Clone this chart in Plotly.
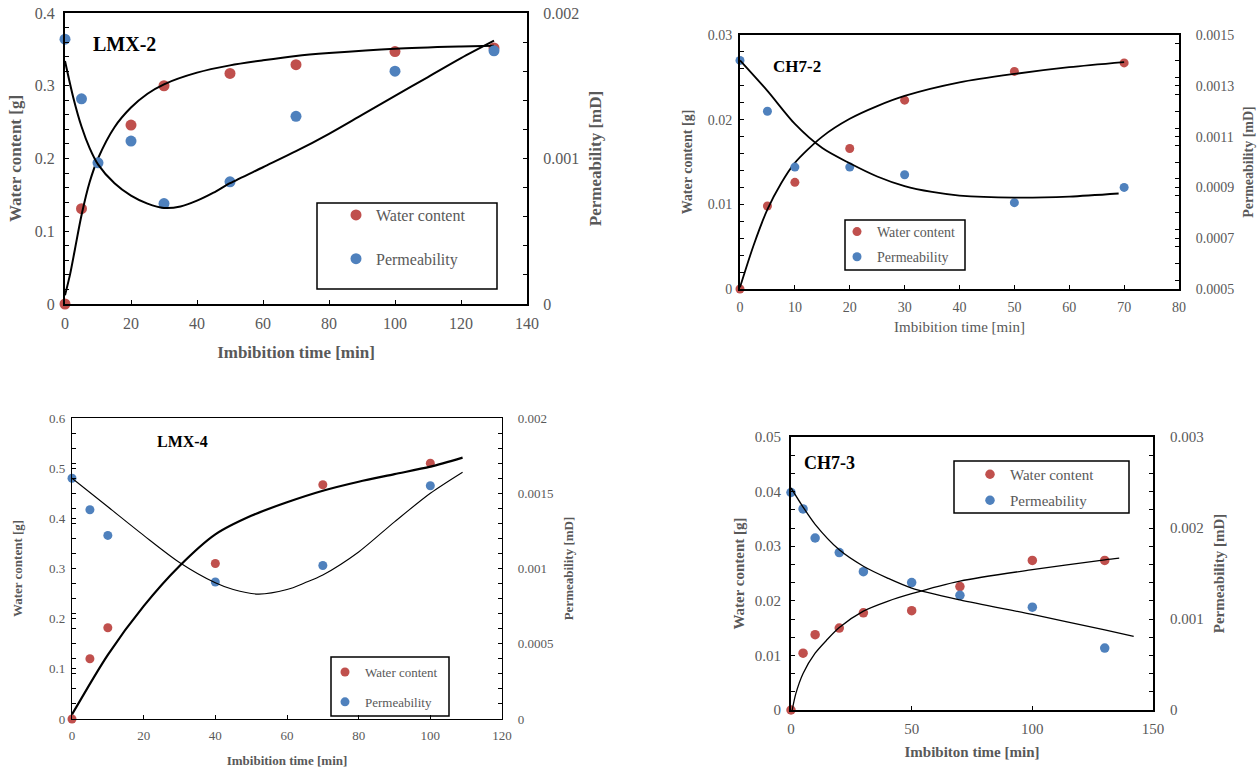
import plotly.graph_objects as go

# ---------------- data ----------------
# LMX-2
lmx2_t_wc = [0, 5, 20, 30, 50, 70, 100, 130]
lmx2_wc = [0.0, 0.131, 0.246, 0.300, 0.317, 0.329, 0.347, 0.352]
lmx2_t_k = [0, 5, 10, 20, 30, 50, 70, 100, 130]
lmx2_k = [0.00182, 0.00141, 0.00097, 0.00112, 0.00069, 0.00084, 0.00129, 0.00160, 0.00174]
lmx2_fit_t_wc = [0, 1.5, 3, 5, 7.5, 10, 15, 20, 25, 30, 40, 50, 60, 70, 80, 100, 120, 130]
lmx2_fit_wc = [0.012, 0.04, 0.075, 0.122, 0.168, 0.2, 0.243, 0.27, 0.289, 0.302, 0.318, 0.328, 0.335, 0.341, 0.345,
               0.351, 0.354, 0.355]
lmx2_fit_t_k = [0, 2.5, 5, 7.5, 10, 15, 20, 25, 30, 35, 40, 45, 50, 60, 70, 80, 90, 100, 110, 120, 130]
lmx2_fit_k = [0.00167, 0.00142, 0.00122, 0.00107, 0.00096, 0.00083, 0.000745, 0.00069, 0.00066, 0.00067, 0.00071,
              0.000765, 0.00083, 0.00094, 0.00105, 0.00117, 0.0013, 0.00143, 0.00156, 0.00169, 0.00181]

# CH7-2
ch72_t = [0, 5, 10, 20, 30, 50, 70]
ch72_wc = [0.0, 0.0098, 0.0126, 0.0166, 0.0223, 0.0257, 0.0267]
ch72_k = [0.0014, 0.0012, 0.00098, 0.00098, 0.00095, 0.00084, 0.0009]
ch72_fit_t_wc = [0, 2.5, 5, 7.5, 10, 15, 20, 25, 30, 40, 50, 60, 70]
ch72_fit_wc = [0.0002, 0.0052, 0.0094, 0.0125, 0.0149, 0.018, 0.0201, 0.0216, 0.0228, 0.0244, 0.0254, 0.0262, 0.0268]
ch72_fit_t_k = [0, 5, 10, 15, 20, 25, 30, 35, 40, 50, 60, 69]
ch72_fit_k = [0.0014, 0.00128, 0.00115, 0.001055, 0.000995, 0.000943, 0.000905, 0.000882, 0.000868, 0.00086,
              0.000864, 0.000876]

# LMX-4
lmx4_t = [0, 5, 10, 40, 70, 100]
lmx4_wc = [0.0, 0.12, 0.182, 0.31, 0.467, 0.51]
lmx4_k = [0.0016, 0.00139, 0.00122, 0.00091, 0.00102, 0.00155]
lmx4_fit_t_wc = [0, 10, 20, 30, 40, 50, 60, 70, 80, 90, 100, 109]
lmx4_fit_wc = [0.009, 0.128, 0.225, 0.305, 0.368, 0.405, 0.432, 0.455, 0.473, 0.488, 0.503, 0.521]
lmx4_fit_t_k = [0, 10, 20, 30, 40, 45, 52, 60, 65, 70, 80, 90, 100, 109]
lmx4_fit_k = [0.0016, 0.00141, 0.00122, 0.00104, 0.000905, 0.00086, 0.00083, 0.00086, 0.000905, 0.000957, 0.00111,
              0.00131, 0.0015, 0.00164]

# CH7-3
ch73_t = [0, 5, 10, 20, 30, 50, 70, 100, 130]
ch73_wc = [0.0, 0.0104, 0.0138, 0.015, 0.0178, 0.0182, 0.0226, 0.0274, 0.0274]
ch73_k = [0.00239, 0.00221, 0.00189, 0.00173, 0.00152, 0.0014, 0.00126, 0.00113, 0.00068]
ch73_fit_t_wc = [0.5, 2, 5, 10, 15, 20, 30, 40, 50, 70, 100, 130, 136]
ch73_fit_wc = [0.0, 0.003, 0.0067, 0.0104, 0.0129, 0.0151, 0.0181, 0.0199, 0.0213, 0.0236, 0.0257, 0.0275, 0.0278]
ch73_fit_t_k = [0, 5, 10, 20, 30, 40, 50, 70, 100, 130, 142]
ch73_fit_k = [0.00244, 0.00223, 0.00204, 0.00176, 0.00158, 0.00145, 0.00134, 0.00121, 0.00105, 0.00088, 0.00081]

# ---------------- styling ----------------
W, H = 1258, 774
RED = "#C0504D"
BLUE = "#4F81BD"
GREY = "#595959"
FONT = "Liberation Serif"


def px(x):
    return x / W


def py(y):
    return 1 - y / H


panels = [
    dict(label="LMX-2", box=(65, 527, 13, 304), lab_xy=(124, 44), lab_size=20,
         xr=[0, 140], xd=20, yr=[0, 0.4], yd=0.1, ymin=0.02, y2r=[0, 0.002], y2d=0.001, y2t0=0, y2min=0.0002,
         tick=16, ttl=17, xttl="Imbibition time [min]", xbold=True, lw=2,
         wc=(lmx2_t_wc, lmx2_wc), k=(lmx2_t_k, lmx2_k),
         fwc=(lmx2_fit_t_wc, lmx2_fit_wc), fk=(lmx2_fit_t_k, lmx2_fit_k),
         ms=11, cw=(2, 2), leg=(336, 198, 16, 20), legbox=(317, 203, 497, 289),
         ylab_std=(5, 11), y_std=(9, 11), x_std=(4, 15)),
    dict(label="CH7-2", box=(740, 1179, 35, 289), lab_xy=(797, 67), lab_size=17,
         xr=[0, 80], xd=10, yr=[0, 0.03], yd=0.01, ymin=0.002, y2r=[0.0005, 0.0015], y2d=0.0002, y2t0=0.0005,
         y2min=0.001 / 15,
         tick=14, ttl=14, xttl="Imbibition time [min]", xbold=False, lw=2,
         wc=(ch72_t, ch72_wc), k=(ch72_t, ch72_k),
         fwc=(ch72_fit_t_wc, ch72_fit_wc), fk=(ch72_fit_t_k, ch72_fit_k),
         ms=9, cw=(1.8, 1.8), leg=(837, 216, 14, 4), legbox=(845, 220, 965, 270),
         ylab_std=(3, 12), y_std=(12, 10), x_std=(4, 8)),
    dict(label="LMX-4", box=(72, 502, 418, 719), lab_xy=(182, 441), lab_size=16,
         xr=[0, 120], xd=20, yr=[0, 0.6], yd=0.1, ymin=0.03, y2r=[0, 0.002], y2d=0.0005, y2t0=0, y2min=0.0001,
         tick=13, ttl=13, xttl="Imbibition time [min]", xbold=True, lw=1.3,
         wc=(lmx4_t, lmx4_wc), k=(lmx4_t, lmx4_k),
         fwc=(lmx4_fit_t_wc, lmx4_fit_wc), fk=(lmx4_fit_t_k, lmx4_fit_k),
         ms=9, cw=(2.2, 1.1), leg=(325, 657, 13, 10), legbox=(331, 657, 449, 716),
         ylab_std=(3, 12), y_std=(23, 11), x_std=(4, 14)),
    dict(label="CH7-3", box=(791, 1153, 437, 710), lab_xy=(830, 463), lab_size=18,
         xr=[0, 150], xd=50, yr=[0, 0.05], yd=0.01, ymin=0.01 / 3, y2r=[0, 0.003], y2d=0.001, y2t0=0, y2min=0.0002,
         tick=15, ttl=15, xttl="Imbibiton time [min]", xbold=True, lw=2,
         wc=(ch73_t, ch73_wc), k=(ch73_t, ch73_k),
         fwc=(ch73_fit_t_wc, ch73_fit_wc), fk=(ch73_fit_t_k, ch73_fit_k),
         ms=9.5, cw=(1.3, 1.3), leg=(970, 458, 15, 3.5), legbox=(954, 461, 1129, 513),
         ylab_std=(5, 12), y_std=(7, 11), x_std=(4, 10)),
]

fig = go.Figure()
layout = dict(width=W, height=H, margin=dict(l=0, r=0, t=0, b=0, autoexpand=False),
              paper_bgcolor="white", plot_bgcolor="rgba(0,0,0,0)",
              font=dict(family=FONT, color=GREY), shapes=[], annotations=[])

for i, p in enumerate(panels, start=1):
    xk = "xaxis" if i == 1 else f"xaxis{i}"
    xr = "x" if i == 1 else f"x{i}"
    yl_i, yr_i = 2 * i - 1, 2 * i
    ylk = "yaxis" if yl_i == 1 else f"yaxis{yl_i}"
    ylr = "y" if yl_i == 1 else f"y{yl_i}"
    yrk = f"yaxis{yr_i}"
    yrr = f"y{yr_i}"
    lgk = "legend" if i == 1 else f"legend{i}"

    x0, x1, y0, y1 = p["box"]
    xdom = [px(x0), px(x1)]
    ydom = [py(y1), py(y0)]
    tf = dict(family=FONT, size=p["tick"], color=GREY)
    ttlw = "bold"

    layout[xk] = dict(domain=xdom, range=p["xr"], dtick=p["xd"], tick0=0, anchor=ylr, automargin=False,
                      showline=True, linecolor="black", linewidth=p["lw"], mirror=True,
                      ticks="inside", ticklen=4, tickcolor="black", tickwidth=1,
                      tickfont=tf, showgrid=False, zeroline=False,
                      ticklabelstandoff=p["x_std"][0],
                      title=dict(text=p["xttl"], standoff=p["x_std"][1],
                                 font=dict(family=FONT, size=p["ttl"] + (0 if p["xbold"] else 1), color=GREY,
                                           weight="bold" if p["xbold"] else "normal")))
    layout[ylk] = dict(domain=ydom, range=p["yr"], dtick=p["yd"], tick0=0, anchor=xr, automargin=False,
                       showline=True, linecolor="black", linewidth=p["lw"],
                       ticks="inside", ticklen=4, tickcolor="black", tickwidth=1,
                       minor=dict(ticks="inside", dtick=p["ymin"], ticklen=4, tickcolor="black", tickwidth=1),
                       tickfont=tf, showgrid=False, zeroline=False, tickformat="~g",
                       ticklabelstandoff=p["ylab_std"][0],
                       title=dict(text="Water content [g]", standoff=p["y_std"][0],
                                  font=dict(family=FONT, size=p["ttl"], color=GREY, weight=ttlw)))
    layout[yrk] = dict(domain=ydom, range=p["y2r"], dtick=p["y2d"], tick0=p["y2t0"], anchor=xr, automargin=False,
                       overlaying=ylr, side="right",
                       showline=True, linecolor="black", linewidth=p["lw"],
                       ticks="inside", ticklen=4, tickcolor="black", tickwidth=1,
                       minor=dict(ticks="inside", dtick=p["y2min"], ticklen=4, tickcolor="black", tickwidth=1),
                       tickfont=tf, showgrid=False, zeroline=False, tickformat="~g",
                       ticklabelstandoff=p["ylab_std"][1],
                       title=dict(text="Permeability [mD]", standoff=p["y_std"][1],
                                  font=dict(family=FONT, size=p["ttl"], color=GREY, weight=ttlw)))

    lx, ly, lfs, lgap = p["leg"]
    layout[lgk] = dict(x=px(lx), y=py(ly), xanchor="left", yanchor="top",
                       bgcolor="rgba(0,0,0,0)", borderwidth=0,
                       traceorder="grouped", tracegroupgap=lgap,
                       font=dict(family=FONT, size=lfs, color=GREY))

    fig.add_trace(go.Scatter(x=p["wc"][0], y=p["wc"][1], mode="markers", name="Water content",
                             marker=dict(color=RED, size=p["ms"]), cliponaxis=False,
                             xaxis=xr, yaxis=ylr, legend=lgk, legendgroup=f"wc{i}", showlegend=True))
    fig.add_trace(go.Scatter(x=p["fwc"][0], y=p["fwc"][1], mode="lines",
                             line=dict(color="black", width=p["cw"][0], shape="spline", smoothing=0.8),
                             xaxis=xr, yaxis=ylr, showlegend=False, hoverinfo="skip"))
    fig.add_trace(go.Scatter(x=p["k"][0], y=p["k"][1], mode="markers", name="Permeability",
                             marker=dict(color=BLUE, size=p["ms"]), cliponaxis=False,
                             xaxis=xr, yaxis=yrr, legend=lgk, legendgroup=f"k{i}", showlegend=True))
    fig.add_trace(go.Scatter(x=p["fk"][0], y=p["fk"][1], mode="lines",
                             line=dict(color="black", width=p["cw"][1], shape="spline", smoothing=0.8),
                             xaxis=xr, yaxis=yrr, showlegend=False, hoverinfo="skip"))

    bx0, by0, bx1, by1 = p["legbox"]
    layout["shapes"].append(dict(type="rect", xref="paper", yref="paper",
                                 x0=px(bx0), x1=px(bx1), y0=py(by1), y1=py(by0),
                                 line=dict(color="black", width=1.5), fillcolor="rgba(0,0,0,0)"))
    layout["annotations"].append(dict(text=p["label"], xref="paper", yref="paper",
                                      x=px(p["lab_xy"][0]), y=py(p["lab_xy"][1]),
                                      xanchor="center", yanchor="middle", showarrow=False,
                                      font=dict(family=FONT, size=p["lab_size"], color="black", weight="bold")))

fig.update_layout(**layout)
fig.write_html("out.html", config={"displayModeBar": False},
               post_script="document.body.style.margin='0';")
